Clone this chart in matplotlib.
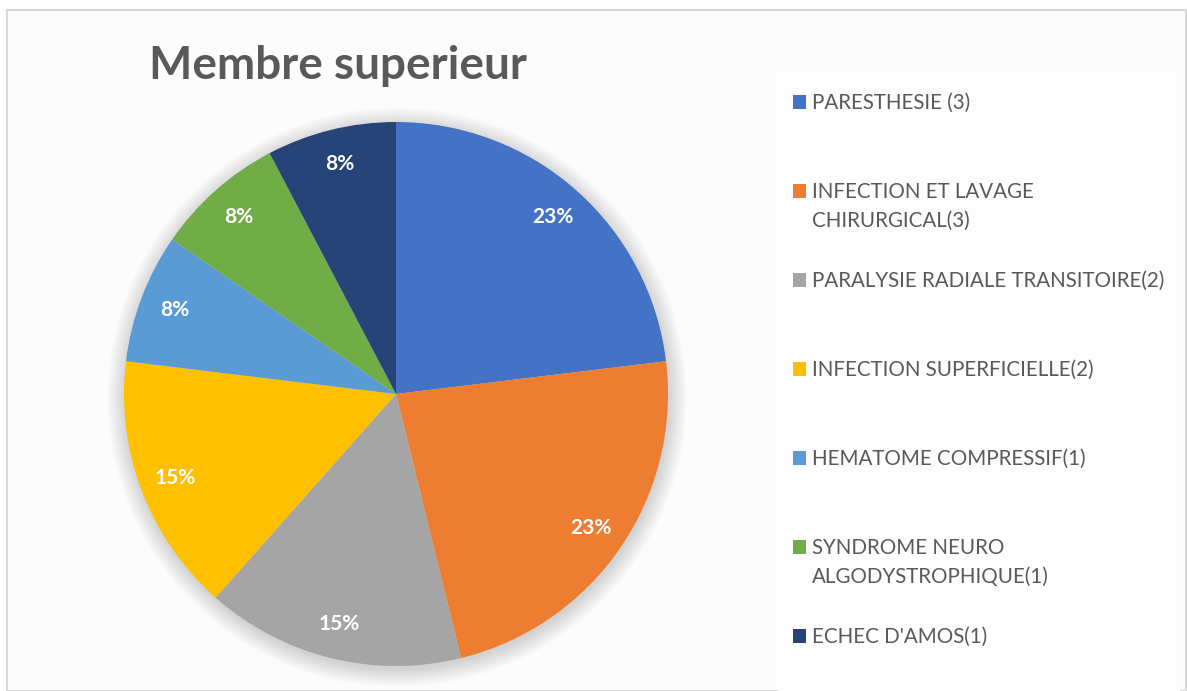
import numpy as np
import matplotlib.pyplot as plt
from matplotlib.patches import Rectangle, Circle

labels = ['PARESTHESIE (3)', 'INFECTION ET LAVAGE\nCHIRURGICAL(3)',
          'PARALYSIE RADIALE TRANSITOIRE(2)', 'INFECTION SUPERFICIELLE(2)',
          'HEMATOME COMPRESSIF(1)', 'SYNDROME NEURO\nALGODYSTROPHIQUE(1)',
          "ECHEC D'AMOS(1)"]
counts = [3, 3, 2, 2, 1, 1, 1]
colors = ['#4472C4', '#ED7D31', '#A5A5A5', '#FFC000', '#5B9BD5', '#70AD47', '#264478']
title = 'Membre superieur'

W, H = 1187, 691
plt.rcParams['font.family'] = ['Lato', 'DejaVu Sans']
plt.rcParams['hatch.linewidth'] = 1.3
plt.rcParams['hatch.color'] = '#ededed'

fig = plt.figure(figsize=(W / 100, H / 100), dpi=100)
fig.patch.set_facecolor('white')

def fx(px):
    return px / W

def fy(py):
    return 1 - py / H

# chart area background with diagonal stripes
bg = Rectangle((fx(7), 0), fx(1186) - fx(7), fy(10), transform=fig.transFigure,
               facecolor='#fcfcfc', edgecolor='none', hatch='\\\\\\\\', zorder=-5)
fig.patches.append(bg)
frame = Rectangle((fx(7), 0), fx(1186) - fx(7), fy(10), transform=fig.transFigure,
                  facecolor='none', edgecolor='#d9d9d9', lw=1.5, zorder=-4)
fig.patches.append(frame)

# legend box
lg = Rectangle((fx(778), 0), fx(1180) - fx(778), fy(72), transform=fig.transFigure,
               facecolor='#fdfdfd', edgecolor='none', zorder=-3)
fig.patches.append(lg)

# pie
cx, cy, r = 396, 394, 272
ax = fig.add_axes([fx(cx - r - 20), fy(cy + r + 20), 2 * (r + 20) / W, 2 * (r + 20) / H])
ax.set_zorder(2)
ax.patch.set_visible(False)
lim = (r + 20) / r
ax.axis('off')

# soft shadow
for i in range(14):
    ax.add_patch(Circle((0.004, -0.012), 1.0 + i * 0.005, facecolor='black',
                        alpha=0.012, edgecolor='none', zorder=0))

wedges, texts, autotexts = ax.pie(counts, colors=colors, startangle=90, counterclock=False,
                                  radius=1, autopct='%1.0f%%', pctdistance=0.87,
                                  wedgeprops=dict(edgecolor='none', linewidth=0),
                                  textprops=dict(color='white', fontsize=15, fontweight='bold'))
for w in wedges:
    w.set_zorder(2)
for t in autotexts:
    t.set_zorder(3)
ax.set_xlim(-lim, lim)
ax.set_ylim(-lim, lim)
ax.set_aspect('equal')

# title
fig.text(fx(338), fy(66), title, ha='center', va='center', fontsize=33,
         fontweight='bold', color='#595959')

# legend entries
for i, (lab, col) in enumerate(zip(labels, colors)):
    y = 102 + 89 * i
    fig.patches.append(Rectangle((fx(793), fy(y + 7)), 13 / W, 14 / H,
                                 transform=fig.transFigure, facecolor=col, edgecolor='none'))
    fig.text(fx(812), fy(y - 9), lab, ha='left', va='top', fontsize=14.8, color='#595959',
             linespacing=1.55)

fig.savefig('out.png', dpi=100, facecolor=fig.get_facecolor())
